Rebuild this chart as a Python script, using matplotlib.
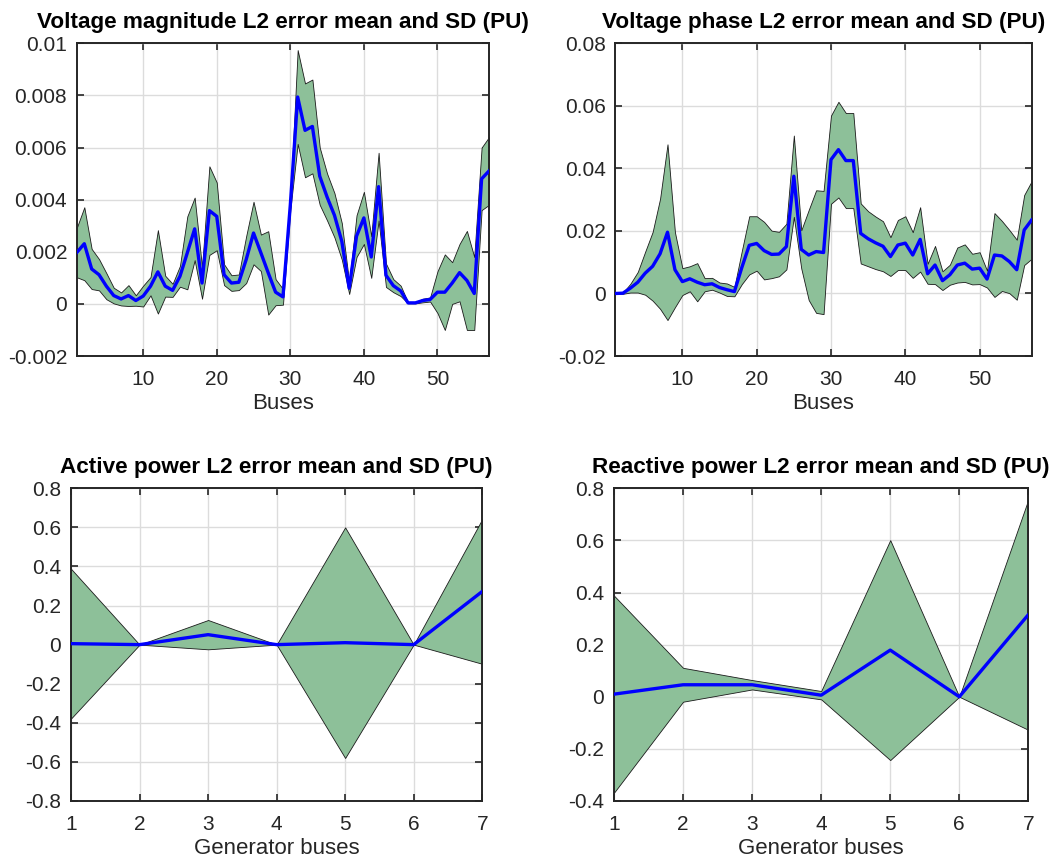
import numpy as np
import matplotlib
matplotlib.use("Agg")
import matplotlib.pyplot as plt

plt.rcParams["font.family"] = ["Liberation Sans", "DejaVu Sans"]

# per-bus voltage magnitude error (PU)
vm_mean = [0.00198, 0.00231, 0.00134, 0.00112, 0.00068, 0.00032, 0.00019, 0.00032, 0.00013, 0.0003,
           0.00068, 0.00123, 0.00068, 0.00052, 0.00106, 0.00196, 0.00288, 0.0008, 0.00358, 0.00336,
           0.00112, 0.0008, 0.00083, 0.0017, 0.00272, 0.00196, 0.00119, 0.00045, 0.00027, 0.0038,
           0.00794, 0.00666, 0.00681, 0.0049, 0.0041, 0.0034, 0.0024, 0.0006, 0.0026, 0.0033,
           0.0018, 0.0045, 0.0011, 0.0007, 0.0005, 0.00004, 0.00004, 0.00013, 0.00017, 0.00045,
           0.00045, 0.0008, 0.0012, 0.0009, 0.0004, 0.0048, 0.0051]
vm_sd = [0.00096, 0.0014, 0.00077, 0.0006, 0.0005, 0.0003, 0.00025, 0.0004, 0.0002, 0.0004,
         0.00035, 0.0016, 0.0004, 0.00025, 0.0004, 0.0014, 0.0012, 0.0006, 0.0017, 0.0013,
         0.0004, 0.0003, 0.0003, 0.0009, 0.0012, 0.0007, 0.0016, 0.0005, 0.0003, 0.0002,
         0.0018, 0.0018, 0.0018, 0.0011, 0.0009, 0.00085, 0.0007, 0.00022, 0.0008, 0.001,
         0.0008, 0.0013, 0.00045, 0.00025, 0.0002, 0.00002, 0.00002, 0.00007, 0.00008, 0.0008,
         0.00145, 0.0008, 0.0011, 0.0019, 0.0014, 0.0012, 0.0013]

# per-bus voltage phase error (PU)
vp_mean = [0, 0.0001, 0.0017, 0.0036, 0.0065, 0.0087, 0.0127, 0.0196, 0.0076, 0.0038,
           0.0047, 0.0036, 0.0028, 0.0031, 0.0019, 0.0012, 0.0006, 0.0083, 0.0154, 0.016,
           0.0137, 0.0125, 0.0126, 0.015, 0.0375, 0.0141, 0.0123, 0.0134, 0.0131, 0.0428,
           0.046, 0.0425, 0.0425, 0.0192, 0.0175, 0.0162, 0.0151, 0.0118, 0.0155, 0.0161,
           0.0123, 0.0173, 0.0063, 0.0091, 0.0041, 0.006, 0.0091, 0.0097, 0.0078, 0.0081,
           0.0046, 0.0123, 0.012, 0.0102, 0.0076, 0.0203, 0.0235]
vp_sd = [0, 0.0002, 0.0014, 0.0033, 0.0069, 0.011, 0.0176, 0.0281, 0.012, 0.0043,
         0.004, 0.0061, 0.0021, 0.0019, 0.0016, 0.002, 0.0015, 0.0053, 0.0093, 0.0087,
         0.0092, 0.0076, 0.0071, 0.0073, 0.013, 0.0061, 0.0144, 0.0196, 0.0197, 0.0141,
         0.0153, 0.0152, 0.0152, 0.0096, 0.0088, 0.0084, 0.008, 0.0062, 0.008, 0.0086,
         0.0073, 0.0103, 0.0032, 0.0061, 0.003, 0.0032, 0.0056, 0.006, 0.0049, 0.0051,
         0.0027, 0.0134, 0.0112, 0.0101, 0.0096, 0.0112, 0.0124]

# generator buses: active / reactive power error (PU)
p_mean = [0.005, 0.0, 0.051, 0.0, 0.01, 0.0, 0.272]
p_sd = [0.383, 0.0, 0.075, 0.0, 0.59, 0.0, 0.37]
q_mean = [0.01, 0.046, 0.046, 0.006, 0.179, 0.0, 0.315]
q_sd = [0.378, 0.065, 0.018, 0.016, 0.422, 0.0, 0.442]

buses = np.arange(1, len(vm_mean) + 1)
gens = np.arange(1, len(p_mean) + 1)

FILL = "#8dc099"
LINE = "#0000ff"
TXT = "#262626"


def panel(ax, x, mean, sd, title, xlabel, xlim, xticks, yticks, ylabels):
    mean = np.asarray(mean)
    sd = np.asarray(sd)
    ax.fill_between(x, mean - sd, mean + sd, facecolor=FILL, edgecolor="#1a1a1a",
                    linewidth=0.6, zorder=2)
    ax.plot(x, mean, color=LINE, linewidth=2.4, zorder=3)
    ax.set_xlim(*xlim)
    ax.set_ylim(yticks[0], yticks[-1])
    ax.set_xticks(xticks)
    ax.set_yticks(yticks)
    ax.set_yticklabels(ylabels)
    ax.grid(True, color="#dcdcdc", linewidth=1.0, zorder=0)
    ax.set_axisbelow(True)
    ax.tick_params(direction="in", top=True, right=True, length=5, width=1.2,
                   labelsize=15, colors=TXT)
    ax.tick_params(axis="x", pad=10)
    ax.tick_params(axis="y", pad=7)
    for s in ax.spines.values():
        s.set_linewidth(1.4)
        s.set_color(TXT)
    ax.set_title(title, fontsize=16.2, fontweight="bold", pad=11)
    ax.set_xlabel(xlabel, fontsize=16, color=TXT, labelpad=3)


fig = plt.figure(figsize=(10.57, 8.61), dpi=100)

ax1 = fig.add_axes([0.0728, 0.5865, 0.3898, 0.3632])
panel(ax1, buses, vm_mean, vm_sd, "Voltage magnitude L2 error mean and SD (PU)", "Buses",
      (1, 57), [10, 20, 30, 40, 50],
      [-0.002, 0, 0.002, 0.004, 0.006, 0.008, 0.01],
      ["-0.002", "0", "0.002", "0.004", "0.006", "0.008", "0.01"])

ax2 = fig.add_axes([0.5823, 0.5865, 0.3937, 0.3632])
panel(ax2, buses, vp_mean, vp_sd, "Voltage phase L2 error mean and SD (PU)", "Buses",
      (1, 57), [10, 20, 30, 40, 50],
      [-0.02, 0, 0.02, 0.04, 0.06, 0.08],
      ["-0.02", "0", "0.02", "0.04", "0.06", "0.08"])

ax3 = fig.add_axes([0.0672, 0.0697, 0.389, 0.3632])
panel(ax3, gens, p_mean, p_sd, "Active power L2 error mean and SD (PU)", "Generator buses",
      (1, 7), list(gens),
      [-0.8, -0.6, -0.4, -0.2, 0, 0.2, 0.4, 0.6, 0.8],
      ["-0.8", "-0.6", "-0.4", "-0.2", "0", "0.2", "0.4", "0.6", "0.8"])

ax4 = fig.add_axes([0.5809, 0.0697, 0.392, 0.3632])
panel(ax4, gens, q_mean, q_sd, "Reactive power L2 error mean and SD (PU)", "Generator buses",
      (1, 7), list(gens),
      [-0.4, -0.2, 0, 0.2, 0.4, 0.6, 0.8],
      ["-0.4", "-0.2", "0", "0.2", "0.4", "0.6", "0.8"])

fig.savefig("out.png", dpi=100)
